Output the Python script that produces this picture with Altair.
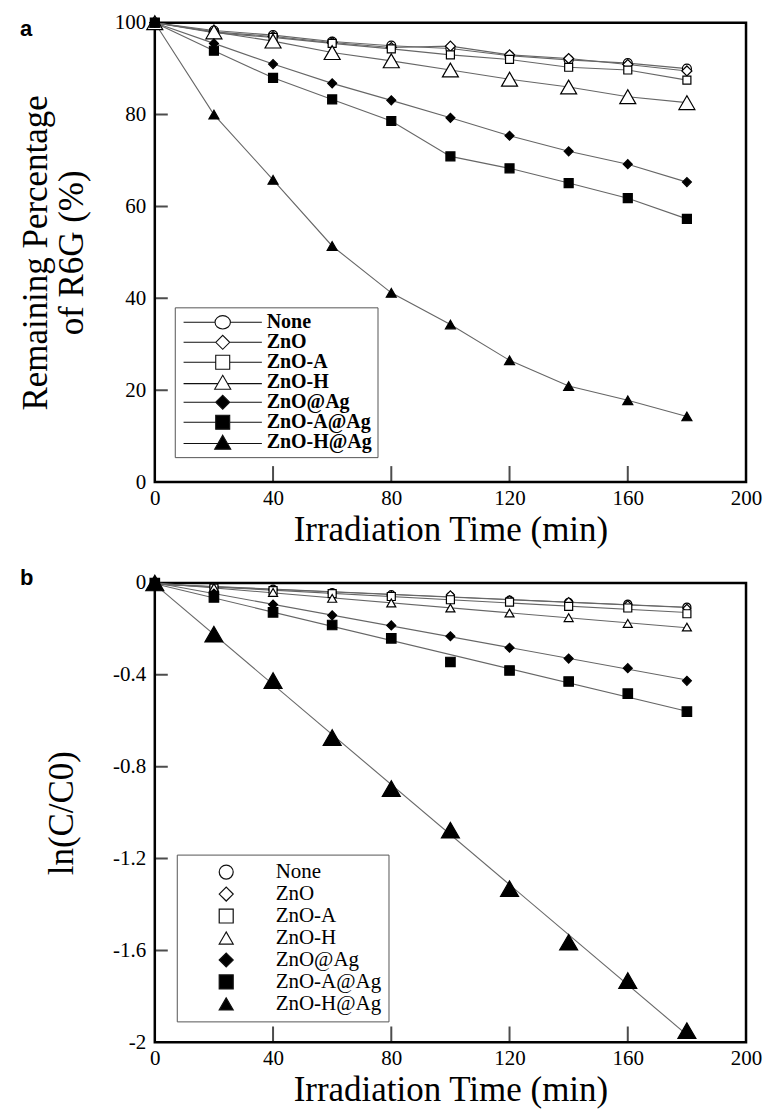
import altair as alt
import pandas as pd

# ---------------- data ----------------
times = [0, 20, 40, 60, 80, 100, 120, 140, 160, 180]
series_names = ["None", "ZnO", "ZnO-A", "ZnO-H", "ZnO@Ag", "ZnO-A@Ag", "ZnO-H@Ag"]

# panel a : remaining percentage of R6G (%)
pct_none = [100, 98.3, 97.3, 95.9, 95.0, 94.4, 92.8, 91.9, 91.2, 90.0]
pct_zno = [100, 98.0, 97.0, 95.7, 94.6, 94.9, 93.0, 92.2, 90.9, 89.5]
pct_zno_a = [100, 97.8, 96.8, 95.5, 94.3, 93.0, 92.0, 90.3, 89.7, 87.5]
pct_zno_h = [100, 98.0, 96.0, 93.5, 91.7, 89.7, 87.7, 86.0, 83.9, 82.6]
pct_zno_ag = [100, 95.5, 91.0, 86.8, 83.1, 79.3, 75.4, 72.0, 69.2, 65.3]
pct_zno_a_ag = [100, 93.9, 88.0, 83.3, 78.6, 70.9, 68.3, 65.1, 61.8, 57.3]
pct_zno_h_ag = [100, 80.0, 65.8, 51.4, 41.2, 34.3, 26.5, 20.9, 17.8, 14.3]

# panel b : ln(C/C0)
ln_none = [0, -0.017, -0.027, -0.042, -0.051, -0.058, -0.075, -0.084, -0.092, -0.105]
ln_zno = [0, -0.020, -0.030, -0.044, -0.055, -0.052, -0.073, -0.081, -0.095, -0.110]
ln_zno_a = [0, -0.022, -0.033, -0.046, -0.059, -0.073, -0.083, -0.102, -0.109, -0.134]
ln_zno_h = [0, -0.020, -0.041, -0.067, -0.087, -0.109, -0.131, -0.151, -0.176, -0.192]
ln_zno_ag = [0, -0.046, -0.094, -0.141, -0.185, -0.232, -0.282, -0.329, -0.371, -0.426]
ln_zno_a_ag = [0, -0.063, -0.128, -0.183, -0.241, -0.344, -0.381, -0.429, -0.482, -0.560]
ln_zno_h_ag = [0, -0.223, -0.425, -0.673, -0.895, -1.076, -1.331, -1.564, -1.731, -1.949]

# axis ticks / labels
x_label_values = [0, 40, 80, 120, 160, 200]
x_inner_ticks = [40, 80, 120, 160]
y_label_values_a = [0, 20, 40, 60, 80, 100]
y_inner_ticks_a = [20, 40, 60, 80]
y_label_values_b = [0, -0.4, -0.8, -1.2, -1.6, -2]
y_inner_ticks_b = [-0.4, -0.8, -1.2, -1.6]

pct_lists = [pct_none, pct_zno, pct_zno_a, pct_zno_h, pct_zno_ag, pct_zno_a_ag, pct_zno_h_ag]
ln_lists = [ln_none, ln_zno, ln_zno_a, ln_zno_h, ln_zno_ag, ln_zno_a_ag, ln_zno_h_ag]


def long_table(lists):
    rows = []
    for name, vals in zip(series_names, lists):
        for t, v in zip(times, vals):
            rows.append({"series": name, "t": t, "v": v})
    return pd.DataFrame(rows)


df_a = long_table(pct_lists)
df_b = long_table(ln_lists)

# ---------------- styles ----------------
SERIF = "Liberation Serif"
shapes = ["circle", "diamond", "square", "triangle-up", "diamond", "square", "triangle-up"]
fills = ["white", "white", "white", "white", "black", "black", "black"]
strokes = ["#111111"] * 7
sizes_a = [81, 100, 64, 256, 81, 81, 100]
sizes_b = [64, 64, 64, 81, 81, 90, 324]
LINE_GRAY = "#666666"

# legend symbols for panel a: symbol with line segment through it
u = 5.6
legend_paths_a = [
    f"M-{u},0H-1.1M1.1,0H{u}M1.1,0A1.1,0.95,0,1,1,-1.1,0A1.1,0.95,0,1,1,1.1,0Z",
    f"M-{u},0H-1M1,0H{u}M-1,0L0,-1L1,0L0,1Z",
    f"M-{u},0H-1M1,0H{u}M-1,-1H1V1H-1Z",
    f"M-{u},0.2H-0.7M0.7,0.2H{u}M0,-1L1.15,1L-1.15,1Z",
    f"M-{u},0H-1M1,0H{u}M-1,0L0,-1L1,0L0,1Z",
    f"M-{u},0H-1M1,0H{u}M-1,-1H1V1H-1Z",
    f"M-{u},0.2H-0.7M0.7,0.2H{u}M0,-1L1.15,1L-1.15,1Z",
]


def make_axis_x():
    return alt.Axis(values=x_label_values, title="Irradiation Time (min)",
                    labelFlush=False, labelOverlap=False, labelPadding=5,
                    titlePadding=4)


def panel(df, y_domain, y_label_values, y_inner, y_title, y_title_pad,
          sizes, legend, legend_shapes, regression, letter, label_expr, title_offset):
    X = alt.X("t:Q", scale=alt.Scale(domain=[0, 200], nice=False), axis=make_axis_x())
    Y = alt.Y("v:Q", scale=alt.Scale(domain=y_domain, nice=False),
              axis=alt.Axis(values=y_label_values, title=y_title, labelFlush=False,
                            labelOverlap=False, labelPadding=9, titlePadding=y_title_pad,
                            labelExpr=label_expr))
    base = alt.Chart(df)
    if regression:
        lines = base.transform_regression("t", "v", groupby=["series"]).mark_line(
            color=LINE_GRAY, strokeWidth=1.1).encode(x=X, y=Y, detail="series:N")
    else:
        lines = base.mark_line(color=LINE_GRAY, strokeWidth=1.1).encode(
            x=X, y=Y, detail="series:N")

    # inward tick marks
    xt = alt.Chart(pd.DataFrame({"t": x_inner_ticks, "v": [y_domain[0]] * len(x_inner_ticks)})
                   ).mark_tick(orient="vertical", size=32, thickness=2, color="black",
                               clip=True).encode(x=X, y=Y)
    yt = alt.Chart(pd.DataFrame({"t": [0] * len(y_inner), "v": y_inner})
                   ).mark_tick(orient="horizontal", size=26, thickness=2, color="black",
                               clip=True).encode(x=X, y=Y)

    layers = [xt, yt, lines]
    for i, name in enumerate(series_names):
        layers.append(
            base.transform_filter(alt.datum.series == name).mark_point(
                shape=shapes[i], size=sizes[i], filled=True, fill=fills[i],
                stroke="black", strokeWidth=1.2, opacity=1, clip=False
            ).encode(x=X, y=Y)
        )
    leg_layer = base.mark_point(opacity=0, filled=True).encode(
        x=X, y=Y,
        shape=alt.Shape("series:N", scale=alt.Scale(domain=series_names, range=legend_shapes),
                        legend=legend),
        fill=alt.Fill("series:N", scale=alt.Scale(domain=series_names, range=fills),
                      legend=legend),
        stroke=alt.Stroke("series:N", scale=alt.Scale(domain=series_names, range=strokes),
                          legend=legend),
    )
    layers.append(leg_layer)
    return alt.layer(*layers).properties(
        width=592, height=460,
        title=alt.TitleParams(letter, anchor="start", frame="group", dx=-135,
                              font="Liberation Sans", fontSize=22, fontWeight="bold",
                              baseline="top", offset=title_offset, color="black"),
    )


legend_a = alt.Legend(orient="none", legendX=20, legendY=285, title=None,
                      labelFont=SERIF, labelFontSize=20, labelFontWeight="bold",
                      labelColor="black", symbolSize=196,
                      symbolStrokeWidth=1.1, symbolOpacity=1, symbolOffset=33,
                      labelOffset=34, padding=5, rowPadding=0,
                      strokeColor="#555555", fillColor="white")
legend_b = alt.Legend(orient="none", legendX=22, legendY=272, title=None,
                      labelFont=SERIF, labelFontSize=21, labelFontWeight="normal",
                      labelColor="black", symbolSize=196,
                      symbolStrokeWidth=1.2, symbolOpacity=1, symbolOffset=32,
                      labelOffset=39, padding=7, rowPadding=0,
                      strokeColor="#555555", fillColor="white")

chart_a = panel(df_a, [0, 100], y_label_values_a, y_inner_ticks_a,
                ["Remaining Percentage", "of R6G (%)"], 25, sizes_a,
                legend_a, legend_paths_a, False, "a", "datum.label", -29)
chart_b = panel(df_b, [-2, 0], y_label_values_b, y_inner_ticks_b,
                "ln(C/C0)", 33, sizes_b,
                legend_b, shapes, True, "b", "toString(datum.value)", -18)

chart = alt.vconcat(chart_a, chart_b, spacing=16).resolve_scale(
    shape="independent", fill="independent", stroke="independent"
).resolve_legend(
    shape="independent", fill="independent", stroke="independent"
).properties(
    padding={"left": 9, "right": 0, "top": 1, "bottom": 0}
).configure(
    background="white"
).configure_view(
    stroke="black", strokeWidth=2.5
).configure_axis(
    domain=False, ticks=False, grid=False,
    labelFont=SERIF, labelFontSize=21, labelColor="black",
    titleFont=SERIF, titleFontSize=35, titleFontWeight="normal", titleColor="black",
    titleLineHeight=36,
)

chart.save("out.html", embed_options={"renderer": "svg", "actions": False})
